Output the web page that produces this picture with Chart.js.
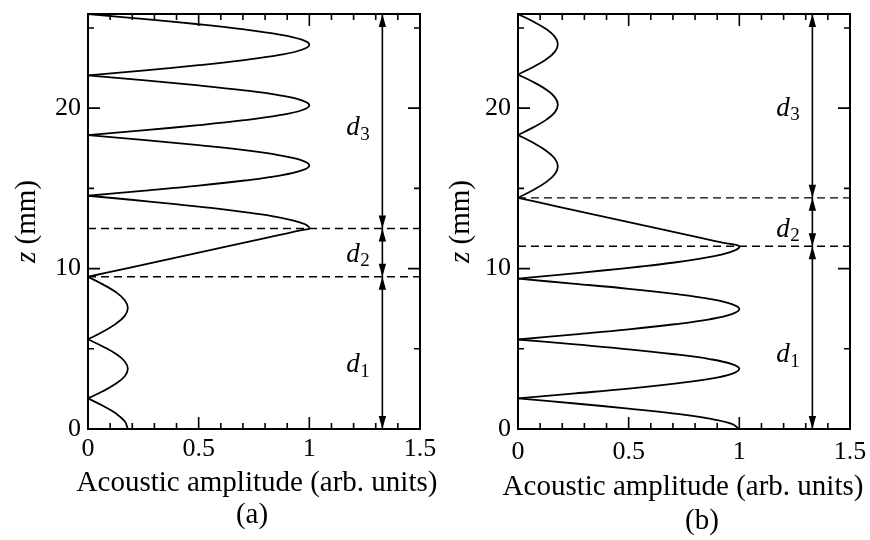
<!DOCTYPE html>
<html><head><meta charset="utf-8">
<script src="https://cdn.jsdelivr.net/npm/chart.js@4"></script>
<style>
html,body{margin:0;padding:0;background:#fff;}
#wrap{position:relative;width:870px;height:540px;overflow:hidden;background:#fff;}
canvas{position:absolute;top:0;}
</style></head><body>
<div id="wrap">
<canvas id="ca" width="440" height="540" style="left:0px"></canvas>
<canvas id="cb" width="440" height="540" style="left:430px"></canvas>
</div>
<script>
// ---------- data ----------
const xTickValues = [0, 0.5, 1, 1.5];
const xTickLabels = ['0', '0.5', '1', '1.5'];
const zTickValues = [0, 10, 20];
const zTickLabels = ['0', '10', '20'];
const zMax = 25.87;
const arrowX = 1.33;
const layerNames = ['1', '2', '3'];
const xTitle = 'Acoustic amplitude (arb. units)';

// panel (a): layer boundaries (mm)
const boundsA = [9.49, 12.5];
const zA = [
  0, 0.48, 0.96, 1.43, 1.91,
  2.37, 2.83, 3.29, 3.75, 4.21, 4.67, 5.13, 5.59,
  6.08, 6.57, 7.05, 7.54, 8.03, 8.52, 9.00, 9.49,
  10.0, 10.5, 11.0, 11.5, 11.9, 12.2, 12.4, 12.5,
  12.76, 13.01, 13.27, 13.52, 13.78, 14.03, 14.29, 14.54,
  14.86, 15.17, 15.49, 15.80, 16.12, 16.43, 16.75, 17.06, 17.38, 17.69, 18.01, 18.32,
  18.63, 18.94, 19.25, 19.56, 19.87, 20.18, 20.49, 20.80, 21.11, 21.42, 21.73, 22.04,
  22.36, 22.68, 23.00, 23.32, 23.64, 23.96, 24.27, 24.59, 24.91, 25.23, 25.55, 25.87
];
const ampA = [
  0.18, 0.166, 0.127, 0.069, 0,
  0.069, 0.127, 0.166, 0.18, 0.166, 0.127, 0.069, 0,
  0.069, 0.127, 0.166, 0.18, 0.166, 0.127, 0.069, 0,
  0.17, 0.335, 0.50, 0.665, 0.80, 0.90, 0.965, 1.0,
  0.981, 0.924, 0.831, 0.707, 0.556, 0.383, 0.195, 0,
  0.259, 0.5, 0.707, 0.866, 0.966, 1, 0.966, 0.866, 0.707, 0.5, 0.259, 0,
  0.259, 0.5, 0.707, 0.866, 0.966, 1, 0.966, 0.866, 0.707, 0.5, 0.259, 0,
  0.259, 0.5, 0.707, 0.866, 0.966, 1, 0.966, 0.866, 0.707, 0.5, 0.259, 0
];

// panel (b)
const boundsB = [11.39, 14.41];
const zB = [
  0, 0.32, 0.64, 0.96, 1.27, 1.59, 1.91,
  2.22, 2.52, 2.83, 3.13, 3.44, 3.75, 4.05, 4.36, 4.66, 4.97, 5.27, 5.58,
  5.90, 6.21, 6.53, 6.84, 7.16, 7.48, 7.79, 8.11, 8.42, 8.74, 9.05, 9.37,
  9.62, 9.88, 10.13, 10.38, 10.64, 10.89, 11.14, 11.39,
  11.6, 11.9, 12.4, 12.9, 13.4, 13.9, 14.41,
  14.90, 15.39, 15.88, 16.37, 16.86, 17.35, 17.84, 18.33,
  18.80, 19.27, 19.74, 20.22, 20.69, 21.16, 21.63, 22.10,
  22.57, 23.04, 23.51, 23.99, 24.46, 24.93, 25.40, 25.87
];
const ampB = [
  1, 0.966, 0.866, 0.707, 0.5, 0.259, 0,
  0.259, 0.5, 0.707, 0.866, 0.966, 1, 0.966, 0.866, 0.707, 0.5, 0.259, 0,
  0.259, 0.5, 0.707, 0.866, 0.966, 1, 0.966, 0.866, 0.707, 0.5, 0.259, 0,
  0.195, 0.383, 0.556, 0.707, 0.831, 0.924, 0.981, 1.0,
  0.93, 0.831, 0.666, 0.50, 0.334, 0.169, 0,
  0.069, 0.127, 0.166, 0.18, 0.166, 0.127, 0.069, 0,
  0.069, 0.127, 0.166, 0.18, 0.166, 0.127, 0.069, 0,
  0.069, 0.127, 0.166, 0.18, 0.166, 0.127, 0.069, 0
];

// ---------- layout (pixels / positions, not data) ----------
const SERIF = '"Liberation Serif", "Times New Roman", serif';
const layoutA = { caption: '(a)', xTitleX: 257, xTitleY: 491, capX: 252, capY: 523, yTitleX: 27, xTickPad: 5,
                  labelZ: [3.55, 10.42, 18.32] };
const layoutB = { caption: '(b)', xTitleX: 253, xTitleY: 495, capX: 272, capY: 529, yTitleX: 31, xTickPad: 8,
                  labelZ: [4.16, 11.97, 19.52] };

function splitLobes(z, amp) {
  const segs = [];
  let cur = [];
  for (let i = 0; i < z.length; i++) {
    cur.push({ x: amp[i], y: z[i] });
    if (amp[i] === 0 && i > 0 && i < z.length - 1) {
      segs.push(cur);
      cur = [{ x: amp[i], y: z[i] }];
    }
  }
  segs.push(cur);
  return segs;
}

const decorPlugin = {
  id: 'decor',
  afterDraw(chart) {
    const L = chart.options.plugins.decor;
    const ctx = chart.ctx;
    const xs = chart.scales.x, ys = chart.scales.y;
    const { left, right, top, bottom } = chart.chartArea;
    ctx.save();
    ctx.strokeStyle = '#000';
    ctx.fillStyle = '#000';
    // frame
    ctx.lineWidth = 2;
    ctx.strokeRect(left, top, right - left, bottom - top);
    // ticks
    ctx.lineWidth = 1.6;
    ctx.beginPath();
    for (let i = 0; i <= 15; i++) {
      const px = xs.getPixelForValue(i / 10);
      const len = (i % 5 === 0) ? 12 : 6;
      ctx.moveTo(px, bottom); ctx.lineTo(px, bottom - len);
      ctx.moveTo(px, top); ctx.lineTo(px, top + len);
    }
    for (let v = 0; v <= 25; v += 5) {
      const py = ys.getPixelForValue(v);
      const len = (v % 10 === 0) ? 12 : 6;
      ctx.moveTo(left, py); ctx.lineTo(left + len, py);
      ctx.moveTo(right, py); ctx.lineTo(right - len, py);
    }
    ctx.stroke();
    // arrowheads
    const ax = xs.getPixelForValue(arrowX);
    const b = [0, ...L.bounds, zMax];
    const head = (y, dir) => {
      ctx.beginPath();
      ctx.moveTo(ax, y);
      ctx.lineTo(ax - 3.7, y - dir * 13);
      ctx.lineTo(ax + 3.7, y - dir * 13);
      ctx.closePath();
      ctx.fill();
    };
    for (let i = 0; i < b.length - 1; i++) {
      head(ys.getPixelForValue(b[i]), 1);
      head(ys.getPixelForValue(b[i + 1]), -1);
    }
    // layer labels d1, d2, d3
    ctx.textAlign = 'left';
    ctx.textBaseline = 'alphabetic';
    for (let i = 0; i < layerNames.length; i++) {
      const x0 = ax - 36;
      const y0 = ys.getPixelForValue(L.labelZ[i]);
      ctx.font = 'italic 27px ' + SERIF;
      ctx.fillText('d', x0, y0);
      const w = ctx.measureText('d').width;
      ctx.font = '19px ' + SERIF;
      ctx.fillText(layerNames[i], x0 + w + 0.5, y0 + 4.5);
    }
    // x title + caption
    ctx.textAlign = 'center';
    ctx.font = '29px ' + SERIF;
    ctx.fillText(xTitle, L.xTitleX, L.xTitleY);
    ctx.fillText(L.caption, L.capX, L.capY);
    // y title (rotated, italic z)
    ctx.translate(L.yTitleX, (top + bottom) / 2);
    ctx.rotate(-Math.PI / 2);
    ctx.textBaseline = 'middle';
    ctx.textAlign = 'left';
    ctx.font = 'italic 29px ' + SERIF;
    const wz = ctx.measureText('z').width;
    ctx.font = '29px ' + SERIF;
    const wr = ctx.measureText(' (mm)').width;
    const x0 = -(wz + wr) / 2;
    ctx.font = 'italic 29px ' + SERIF;
    ctx.fillText('z', x0, 0);
    ctx.font = '29px ' + SERIF;
    ctx.fillText(' (mm)', x0 + wz, 0);
    ctx.restore();
  }
};

function makePanel(id, z, amp, bounds, L) {
  const curve = splitLobes(z, amp).map(seg => ({
    data: seg, showLine: true, borderColor: '#000', borderWidth: 1.8,
    pointRadius: 0, tension: 0.4, fill: false
  }));
  const dashed = bounds.map(v => ({
    data: [{ x: 0, y: v }, { x: 1.5, y: v }], showLine: true, borderColor: '#000',
    borderWidth: 1.4, borderDash: [8, 5], pointRadius: 0, tension: 0
  }));
  const arrow = {
    data: [{ x: arrowX, y: 0 }, { x: arrowX, y: zMax }], showLine: true, borderColor: '#000',
    borderWidth: 1.6, pointRadius: 0, tension: 0
  };
  return new Chart(document.getElementById(id), {
    type: 'scatter',
    data: { datasets: [...curve, ...dashed, arrow] },
    options: {
      responsive: false, animation: false, events: [],
      layout: { padding: { top: 14, right: 20, left: 0, bottom: 0 } },
      plugins: { legend: { display: false }, tooltip: { enabled: false }, decor: Object.assign({ bounds }, L) },
      scales: {
        x: {
          type: 'linear', min: 0, max: 1.5,
          grid: { display: false, drawTicks: false }, border: { display: false },
          afterBuildTicks: s => { s.ticks = xTickValues.map(v => ({ value: v })); },
          afterFit: s => { s.height = 111; s.paddingLeft = 0; s.paddingRight = 0; },
          ticks: { color: '#000', padding: L.xTickPad, font: { family: SERIF, size: 26 },
                   callback: (v) => xTickLabels[xTickValues.indexOf(v)] }
        },
        y: {
          type: 'linear', min: 0, max: zMax,
          grid: { display: false, drawTicks: false }, border: { display: false },
          afterBuildTicks: s => { s.ticks = zTickValues.map(v => ({ value: v })); },
          afterFit: s => { s.width = 88; s.paddingTop = 0; s.paddingBottom = 0; },
          ticks: { color: '#000', padding: 7, font: { family: SERIF, size: 26 },
                   callback: (v) => zTickLabels[zTickValues.indexOf(v)] }
        }
      }
    },
    plugins: [decorPlugin]
  });
}

makePanel('ca', zA, ampA, boundsA, layoutA);
makePanel('cb', zB, ampB, boundsB, layoutB);
</script>
</body></html>
